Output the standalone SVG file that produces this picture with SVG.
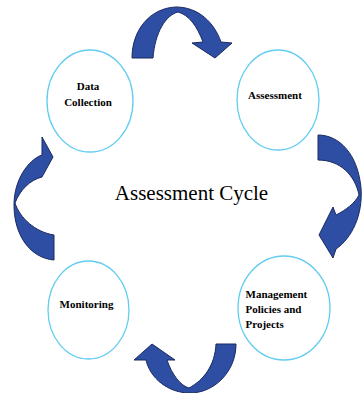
<svg xmlns="http://www.w3.org/2000/svg" width="362" height="393" viewBox="0 0 362 393">
<style>
.node{fill:#fff;stroke:#62ccf2;stroke-width:1.3}
.lbl{font-family:"Liberation Serif","Times New Roman",serif;font-weight:bold;font-size:11px;fill:#000}
.arrow{fill:#2d4ea2;stroke:#1b2a60;stroke-width:1;stroke-linejoin:round}
.title{font-family:"Liberation Serif","Times New Roman",serif;font-size:21px;fill:#000}
</style>
<rect width="362" height="393" fill="#fff"/>
<g id="data-collection">
<ellipse class="node" cx="90" cy="101" rx="43" ry="51"/>
<text class="lbl" x="88" y="90" text-anchor="middle">Data</text>
<text class="lbl" x="88" y="105.5" text-anchor="middle">Collection</text>
</g>
<g id="assessment">
<ellipse class="node" cx="278" cy="100" rx="41" ry="50"/>
<text class="lbl" x="275" y="99" text-anchor="middle">Assessment</text>
</g>
<g id="monitoring">
<ellipse class="node" cx="88.5" cy="310" rx="40.5" ry="49"/>
<text class="lbl" x="86.5" y="308" text-anchor="middle">Monitoring</text>
</g>
<g id="management">
<ellipse class="node" cx="284" cy="308" rx="46" ry="52"/>
<text class="lbl" x="245.5" y="297.5">Management</text>
<text class="lbl" x="245.5" y="313">Policies and</text>
<text class="lbl" x="245.5" y="327.5">Projects</text>
</g>
<g id="title">
<text class="title" x="191.5" y="200" text-anchor="middle">Assessment Cycle</text>
</g>
<g id="connectors">
<path class="arrow" d="M132,58 C132,30 150,8 176,7 C198,7 214,22 221,42 L232,43 L215,58 L192,43 L203,42 C197,26 189,15 178,12 C166,15 155,32 153,58 Z"/>
<path class="arrow" d="M318,135 C340,135 358,155 361,188 C363,215 352,238 336,249 L333,258 L319,235 L333,207 L336,215 C346,210 355,203 359,195 C355,175 340,160 318,160 Z"/>
<path class="arrow" d="M216,344 L236,344 C236,372 214,393 190,393 C168,393 150,378 146,360 L134,360 L152,344 L175,360 L167,360 C172,375 181,386 189,388 C204,380 215,365 216,344 Z"/>
<path class="arrow" d="M54,260 C30,258 14,235 14,205 C14,180 28,160 42,155 L42,137 L53,157 L42,177 C30,180 20,190 15,203 C20,218 35,232 54,235 Z"/>
</g>
</svg>
